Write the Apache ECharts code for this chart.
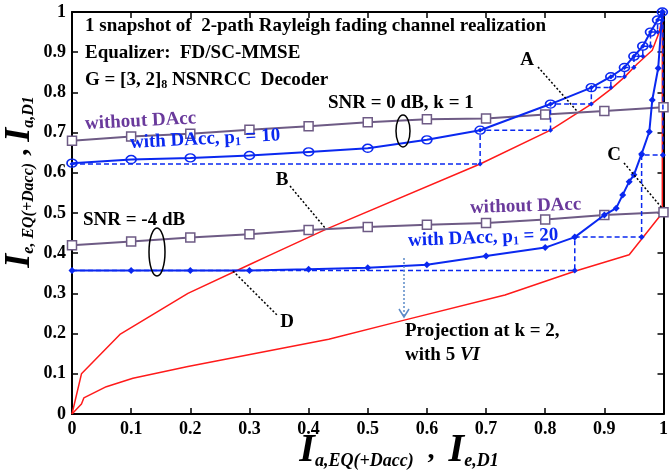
<!DOCTYPE html>
<html>
<head>
<meta charset="utf-8">
<script src="https://cdn.jsdelivr.net/npm/echarts@6/dist/echarts.min.js"></script>
<style>
html, body { margin: 0; padding: 0; background: #fff; }
#chart { width: 671px; height: 470px; }
</style>
</head>
<body>
<div id="chart"></div>
<script>
// decoder curves (red), [I_e,D1, I_a,D1]
const decoderK1 = [[0, 0], [0.016, 0.1], [0.081, 0.198], [0.196, 0.3], [0.305, 0.375], [0.33, 0.392], [0.43, 0.46],
  [0.69, 0.622], [0.809, 0.706], [0.878, 0.771], [0.911, 0.808], [0.934, 0.838], [0.955, 0.87], [0.981, 0.905],
  [0.993, 0.951], [1, 1]]
const decoderK2 = [[0, 0], [0.016, 0.025], [0.02, 0.04], [0.058, 0.068], [0.103, 0.089], [0.196, 0.118], [0.434, 0.186],
  [0.555, 0.231], [0.732, 0.296], [0.85, 0.355], [0.942, 0.396], [0.998, 0.5], [0.998, 1]]

// equalizer curves
const eqX = [0, 0.1, 0.2, 0.3, 0.4, 0.5, 0.6, 0.7, 0.8, 0.9, 1.0]
const snr0NoDacc = [0.68, 0.69, 0.697, 0.707, 0.716, 0.726, 0.733, 0.735, 0.745, 0.754, 0.763]
const snrM4NoDacc = [0.42, 0.429, 0.439, 0.447, 0.458, 0.465, 0.471, 0.475, 0.484, 0.495, 0.502]
const snr0Dacc = [[0, 0.624], [0.1, 0.633], [0.2, 0.637], [0.3, 0.643], [0.4, 0.652], [0.5, 0.661], [0.6, 0.682],
  [0.69, 0.706], [0.809, 0.771], [0.878, 0.812], [0.911, 0.839], [0.934, 0.862], [0.95, 0.89], [0.965, 0.915],
  [0.978, 0.95], [0.99, 0.98], [0.998, 1]]
const snrM4Dacc = [[0, 0.357], [0.1, 0.357], [0.2, 0.357], [0.3, 0.357], [0.4, 0.36], [0.5, 0.364], [0.6, 0.371],
  [0.7, 0.393], [0.8, 0.414], [0.85, 0.44], [0.9, 0.495], [0.92, 0.512], [0.931, 0.545], [0.942, 0.578],
  [0.95, 0.595], [0.963, 0.647], [0.976, 0.702], [0.981, 0.781], [0.991, 0.86], [0.998, 1]]

// decoding trajectories (dashed)
const traj0 = [[0, 0.622], [0.69, 0.622], [0.69, 0.706], [0.809, 0.706], [0.809, 0.771], [0.878, 0.771], [0.878, 0.812],
  [0.911, 0.812], [0.911, 0.839], [0.934, 0.839], [0.934, 0.862], [0.95, 0.862], [0.95, 0.89], [0.965, 0.89],
  [0.965, 0.915], [0.978, 0.915], [0.978, 0.95], [0.99, 0.95], [0.99, 0.98], [0.998, 0.98], [0.998, 1]]
const trajM4 = [[0, 0.357], [0.85, 0.357], [0.85, 0.44], [0.963, 0.44], [0.963, 0.644], [0.999, 0.644], [0.999, 1]]

const SERIF = '"Liberation Serif", "Times New Roman", serif'
const RED = '#ff1a1a'
const BLUE = '#0a28f0'
const GREY = '#6e5b85'
const PURPLE = '#6a3a9c'
const FS = 19

const chart = echarts.init(document.getElementById('chart'))

function axis (pos, labels) {
  return {
    type: 'value',
    position: pos,
    min: 0,
    max: 1,
    interval: 0.1,
    axisLine: {show: true, onZero: false, lineStyle: {color: '#000', width: 2}},
    axisTick: {show: true, inside: true, length: 6, lineStyle: {color: '#000', width: 1.5}},
    splitLine: {show: false},
    axisLabel: {
      show: labels,
      color: '#000',
      fontFamily: SERIF,
      fontWeight: 'bold',
      fontSize: 18,
      margin: 6,
      formatter: v => (v === 0 ? '0' : v === 1 ? '1' : v.toFixed(1))
    }
  }
}

function txt (x, y, text, opts) {
  opts = opts || {}
  return {
    type: 'text',
    x: x,
    y: y,
    rotation: opts.rot || 0,
    z: 100,
    style: {
      text: text,
      fill: opts.color || '#000',
      font: 'bold ' + (opts.size || FS) + 'px ' + SERIF,
      align: opts.align || 'left',
      verticalAlign: 'middle',
      rich: opts.rich
    }
  }
}

function subRich (size, color) {
  return {
    n: {fontFamily: SERIF, fontWeight: 'bold', fontSize: size, fill: color, lineHeight: size + 4, verticalAlign: 'middle'},
    s: {fontFamily: SERIF, fontWeight: 'bold', fontSize: Math.round(size * 0.65), fill: color,
      lineHeight: Math.round(size * 0.65), padding: [Math.round(size * 0.5), 0, 0, 0], verticalAlign: 'top'}
  }
}

function dotted (pts, color) {
  return {
    type: 'polyline',
    z: 100,
    shape: {points: pts},
    style: {stroke: color || '#000', lineWidth: 1.5, lineDash: [2, 2], fill: 'none'}
  }
}

function ellipse (cx, cy, rx, ry) {
  return {type: 'ellipse', z: 100, shape: {cx: cx, cy: cy, rx: rx, ry: ry},
    style: {fill: 'none', stroke: '#000', lineWidth: 1.5}}
}

function titleRich (bigSize, subSize) {
  return {
    a: {fontFamily: SERIF, fontStyle: 'italic', fontWeight: 'bold', fontSize: bigSize, lineHeight: bigSize + 4, verticalAlign: 'middle', fill: '#000'},
    b: {fontFamily: SERIF, fontStyle: 'italic', fontWeight: 'bold', fontSize: subSize, lineHeight: subSize,
      padding: [Math.round(bigSize * 0.58), 0, 0, 0], verticalAlign: 'top', fill: '#000'},
    c: {fontFamily: SERIF, fontWeight: 'bold', fontSize: 28, lineHeight: bigSize + 4, verticalAlign: 'middle', fill: '#000'}
  }
}

const option = {
  animation: false,
  backgroundColor: '#fff',
  grid: {left: 72, right: 5, top: 12, bottom: 56, containLabel: false},
  xAxis: [axis('bottom', true), axis('top', false)],
  yAxis: [axis('left', true), axis('right', false)],
  series: [
    {name: 'decoder k1', type: 'line', data: decoderK1, showSymbol: false, symbol: 'none',
      lineStyle: {color: RED, width: 1.5}, z: 2},
    {name: 'decoder k2', type: 'line', data: decoderK2, showSymbol: false, symbol: 'none',
      lineStyle: {color: RED, width: 1.5}, z: 2},
    {name: 'SNR 0 without DAcc', type: 'line', data: eqX.map((x, i) => [x, snr0NoDacc[i]]),
      symbol: 'rect', symbolSize: 9, itemStyle: {color: '#fff', borderColor: GREY, borderWidth: 1.5},
      lineStyle: {color: GREY, width: 2}, z: 3},
    {name: 'SNR -4 without DAcc', type: 'line', data: eqX.map((x, i) => [x, snrM4NoDacc[i]]),
      symbol: 'rect', symbolSize: 9, itemStyle: {color: '#fff', borderColor: GREY, borderWidth: 1.5},
      lineStyle: {color: GREY, width: 2}, z: 3},
    {name: 'traj 0', type: 'line', data: traj0, symbol: 'diamond', symbolSize: 5,
      itemStyle: {color: BLUE}, lineStyle: {color: BLUE, width: 1.5, type: [5, 3]}, z: 4},
    {name: 'traj -4', type: 'line', data: trajM4, symbol: 'diamond', symbolSize: 6,
      itemStyle: {color: BLUE}, lineStyle: {color: BLUE, width: 1.5, type: [5, 3]}, z: 4},
    {name: 'SNR 0 with DAcc', type: 'line', data: snr0Dacc, symbol: 'circle', symbolSize: [10, 8],
      itemStyle: {color: 'rgba(255,255,255,0)', borderColor: BLUE, borderWidth: 1.5},
      lineStyle: {color: BLUE, width: 2}, z: 5},
    {name: 'SNR -4 with DAcc', type: 'line', data: snrM4Dacc, symbol: 'diamond', symbolSize: 7,
      itemStyle: {color: BLUE}, lineStyle: {color: BLUE, width: 2}, z: 5}
  ],
  graphic: [
    txt(85, 26, '1 snapshot of  2-path Rayleigh fading channel realization'),
    txt(85, 53, 'Equalizer:  FD/SC-MMSE'),
    txt(85, 80, '{n|G = [3, 2]}{s|8}{n| NSNRCC  Decoder}', {rich: subRich(FS, '#000')}),
    txt(328, 103, 'SNR = 0 dB, k = 1'),
    ellipse(403, 131, 7, 16),
    txt(85, 124, 'without DAcc', {color: PURPLE, rot: 0.05}),
    txt(130, 143, '{n|with DAcc, p}{s|1}{n| = 10}', {color: BLUE, rot: 0.05, rich: subRich(FS, BLUE)}),
    txt(83, 220, 'SNR = -4 dB'),
    ellipse(157, 252, 8, 24),
    txt(470, 208, 'without DAcc', {color: PURPLE, rot: 0.03}),
    txt(408, 241, '{n|with DAcc, p}{s|1}{n| = 20}', {color: BLUE, rot: 0.04, rich: subRich(FS, BLUE)}),
    txt(527, 60, 'A', {align: 'center'}),
    dotted([[538, 67], [577, 111]]),
    txt(282, 180, 'B', {align: 'center'}),
    dotted([[290, 186], [326, 229]]),
    txt(614, 155, 'C', {align: 'center'}),
    dotted([[624, 163], [662, 208]]),
    txt(287, 322, 'D', {align: 'center'}),
    dotted([[233, 271], [277, 315]]),
    dotted([[404, 258], [404, 316]], '#5b8bc8'),
    {type: 'polyline', z: 100, shape: {points: [[399, 309], [404, 317], [409, 309]]},
      style: {stroke: '#5b8bc8', lineWidth: 1.5, fill: 'none'}},
    txt(405, 331, 'Projection at k = 2,'),
    txt(405, 355, 'with 5 {i|VI}', {rich: {i: {fontFamily: SERIF, fontStyle: 'italic', fontWeight: 'bold', fontSize: FS, fill: '#000'}}}),
    txt(399, 451, '{a|I}{b|a,EQ(+Dacc)}{c|  ,  }{a|I}{b|e,D1}', {align: 'center', rich: titleRich(40, 18)}),
    txt(20, 182, '{a|I}{b|e, EQ(+Dacc)}{c| , }{a|I}{b|a,D1}', {align: 'center', rot: Math.PI / 2, rich: titleRich(36, 16)})
  ]
}

chart.setOption(option)
</script>
</body>
</html>
